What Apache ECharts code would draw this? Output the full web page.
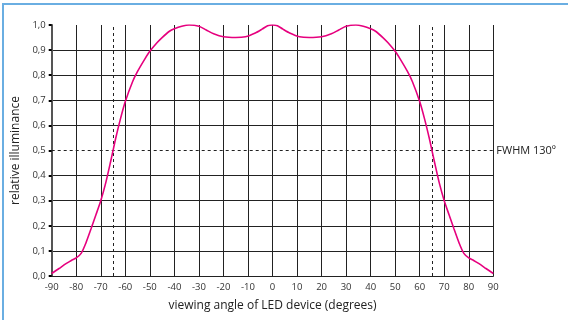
<!DOCTYPE html>
<html><head><meta charset="utf-8">
<script src="https://cdn.jsdelivr.net/npm/echarts@6/dist/echarts.min.js"></script>
<style>html,body{margin:0;padding:0;background:#fff}#c{width:568px;height:320px}</style>
</head><body><div id="c"></div>
<script>
const angles = [-90,-87,-84,-82,-80,-78,-76,-74,-72,-70,-68,-66,-65,-64,-62,-60,-57,-55,-52,-50,-47,-45,-42,-40,-37,-34,-30,-27,-24,-20,-15,-11,-7,-4,-2,0,
  2,4,7,11,15,20,24,27,30,34,37,40,42,45,47,50,52,55,57,60,62,64,65,66,68,70,72,74,76,78,80,82,84,87,90];
const illuminance = [0.01,0.03,0.05,0.062,0.072,0.09,0.133,0.187,0.243,0.30,0.37,0.455,0.50,0.545,0.625,0.695,0.775,0.815,0.865,0.895,0.93,0.95,0.975,0.985,0.995,1.0,0.995,0.98,0.965,0.953,0.95,0.953,0.968,0.985,0.997,1.0,
  0.997,0.985,0.968,0.953,0.95,0.953,0.965,0.98,0.995,1.0,0.995,0.985,0.975,0.95,0.93,0.895,0.865,0.815,0.775,0.695,0.625,0.545,0.50,0.455,0.37,0.30,0.243,0.187,0.133,0.09,0.072,0.062,0.05,0.03,0.01];
const fwhmAngles = [-65, 65];
const fwhmLevel = 0.5;
const fwhmLabel = 'FWHM 130º';
const xName = 'viewing angle of LED device (degrees)';
const yName = 'relative illuminance';

const font = '"Open Sans", "Noto Sans", sans-serif';
const gridColors = [];
for (let i = 0; i <= 10; i++) gridColors.push(i === 5 || i === 10 ? 'rgba(0,0,0,0)' : '#222');

const chart = echarts.init(document.getElementById('c'), null, {renderer: 'canvas'});
chart.setOption({
  animation: false,
  backgroundColor: '#fff',
  graphic: [{type: 'rect', shape: {x: 3, y: 4, width: 700, height: 500}, style: {fill: 'none', stroke: '#6aaee2', lineWidth: 2}, silent: true}],
  grid: {left: 51.7, right: 74.7, top: 25, bottom: 44},
  xAxis: {
    type: 'value', min: -90, max: 90, interval: 10,
    name: xName, nameLocation: 'middle', nameGap: 24,
    nameTextStyle: {fontFamily: font, fontSize: 12, color: '#222'},
    axisLine: {show: true, onZero: false, lineStyle: {color: '#222', width: 1}},
    axisTick: {show: false},
    axisLabel: {fontFamily: font, fontSize: 9.5, color: '#333', margin: 6},
    splitLine: {show: true, lineStyle: {color: '#222', width: 1}}
  },
  yAxis: {
    type: 'value', min: 0, max: 1, interval: 0.1,
    name: yName, nameLocation: 'middle', nameGap: 30,
    nameTextStyle: {fontFamily: font, fontSize: 12, color: '#222'},
    axisLine: {show: true, onZero: false, lineStyle: {color: '#555', width: 2}},
    axisTick: {show: true, length: 3, lineStyle: {color: '#000', width: 2}},
    axisLabel: {fontFamily: font, fontSize: 9.5, color: '#333', margin: 6,
      formatter: v => v.toFixed(1).replace('.', ',')},
    splitLine: {show: true, lineStyle: {color: gridColors, width: 1}}
  },
  series: [{
    type: 'line',
    data: angles.map((a, i) => [a, illuminance[i]]),
    smooth: 0.25,
    showSymbol: false,
    lineStyle: {color: '#e6007e', width: 1.6},
    z: 5,
    markLine: {
      silent: true, symbol: 'none',
      lineStyle: {color: '#222', type: [3, 3], width: 1},
      label: {show: false},
      data: [
        [{coord: [fwhmAngles[0], 0]}, {coord: [fwhmAngles[0], 1]}],
        [{coord: [fwhmAngles[1], 0]}, {coord: [fwhmAngles[1], 1]}],
        [{coord: [-90, fwhmLevel], label: {show: true, position: 'end', formatter: fwhmLabel, distance: 3, fontFamily: font, fontSize: 11, color: '#222'}},
         {coord: [90, fwhmLevel]}]
      ]
    }
  }]
});
</script></body></html>
